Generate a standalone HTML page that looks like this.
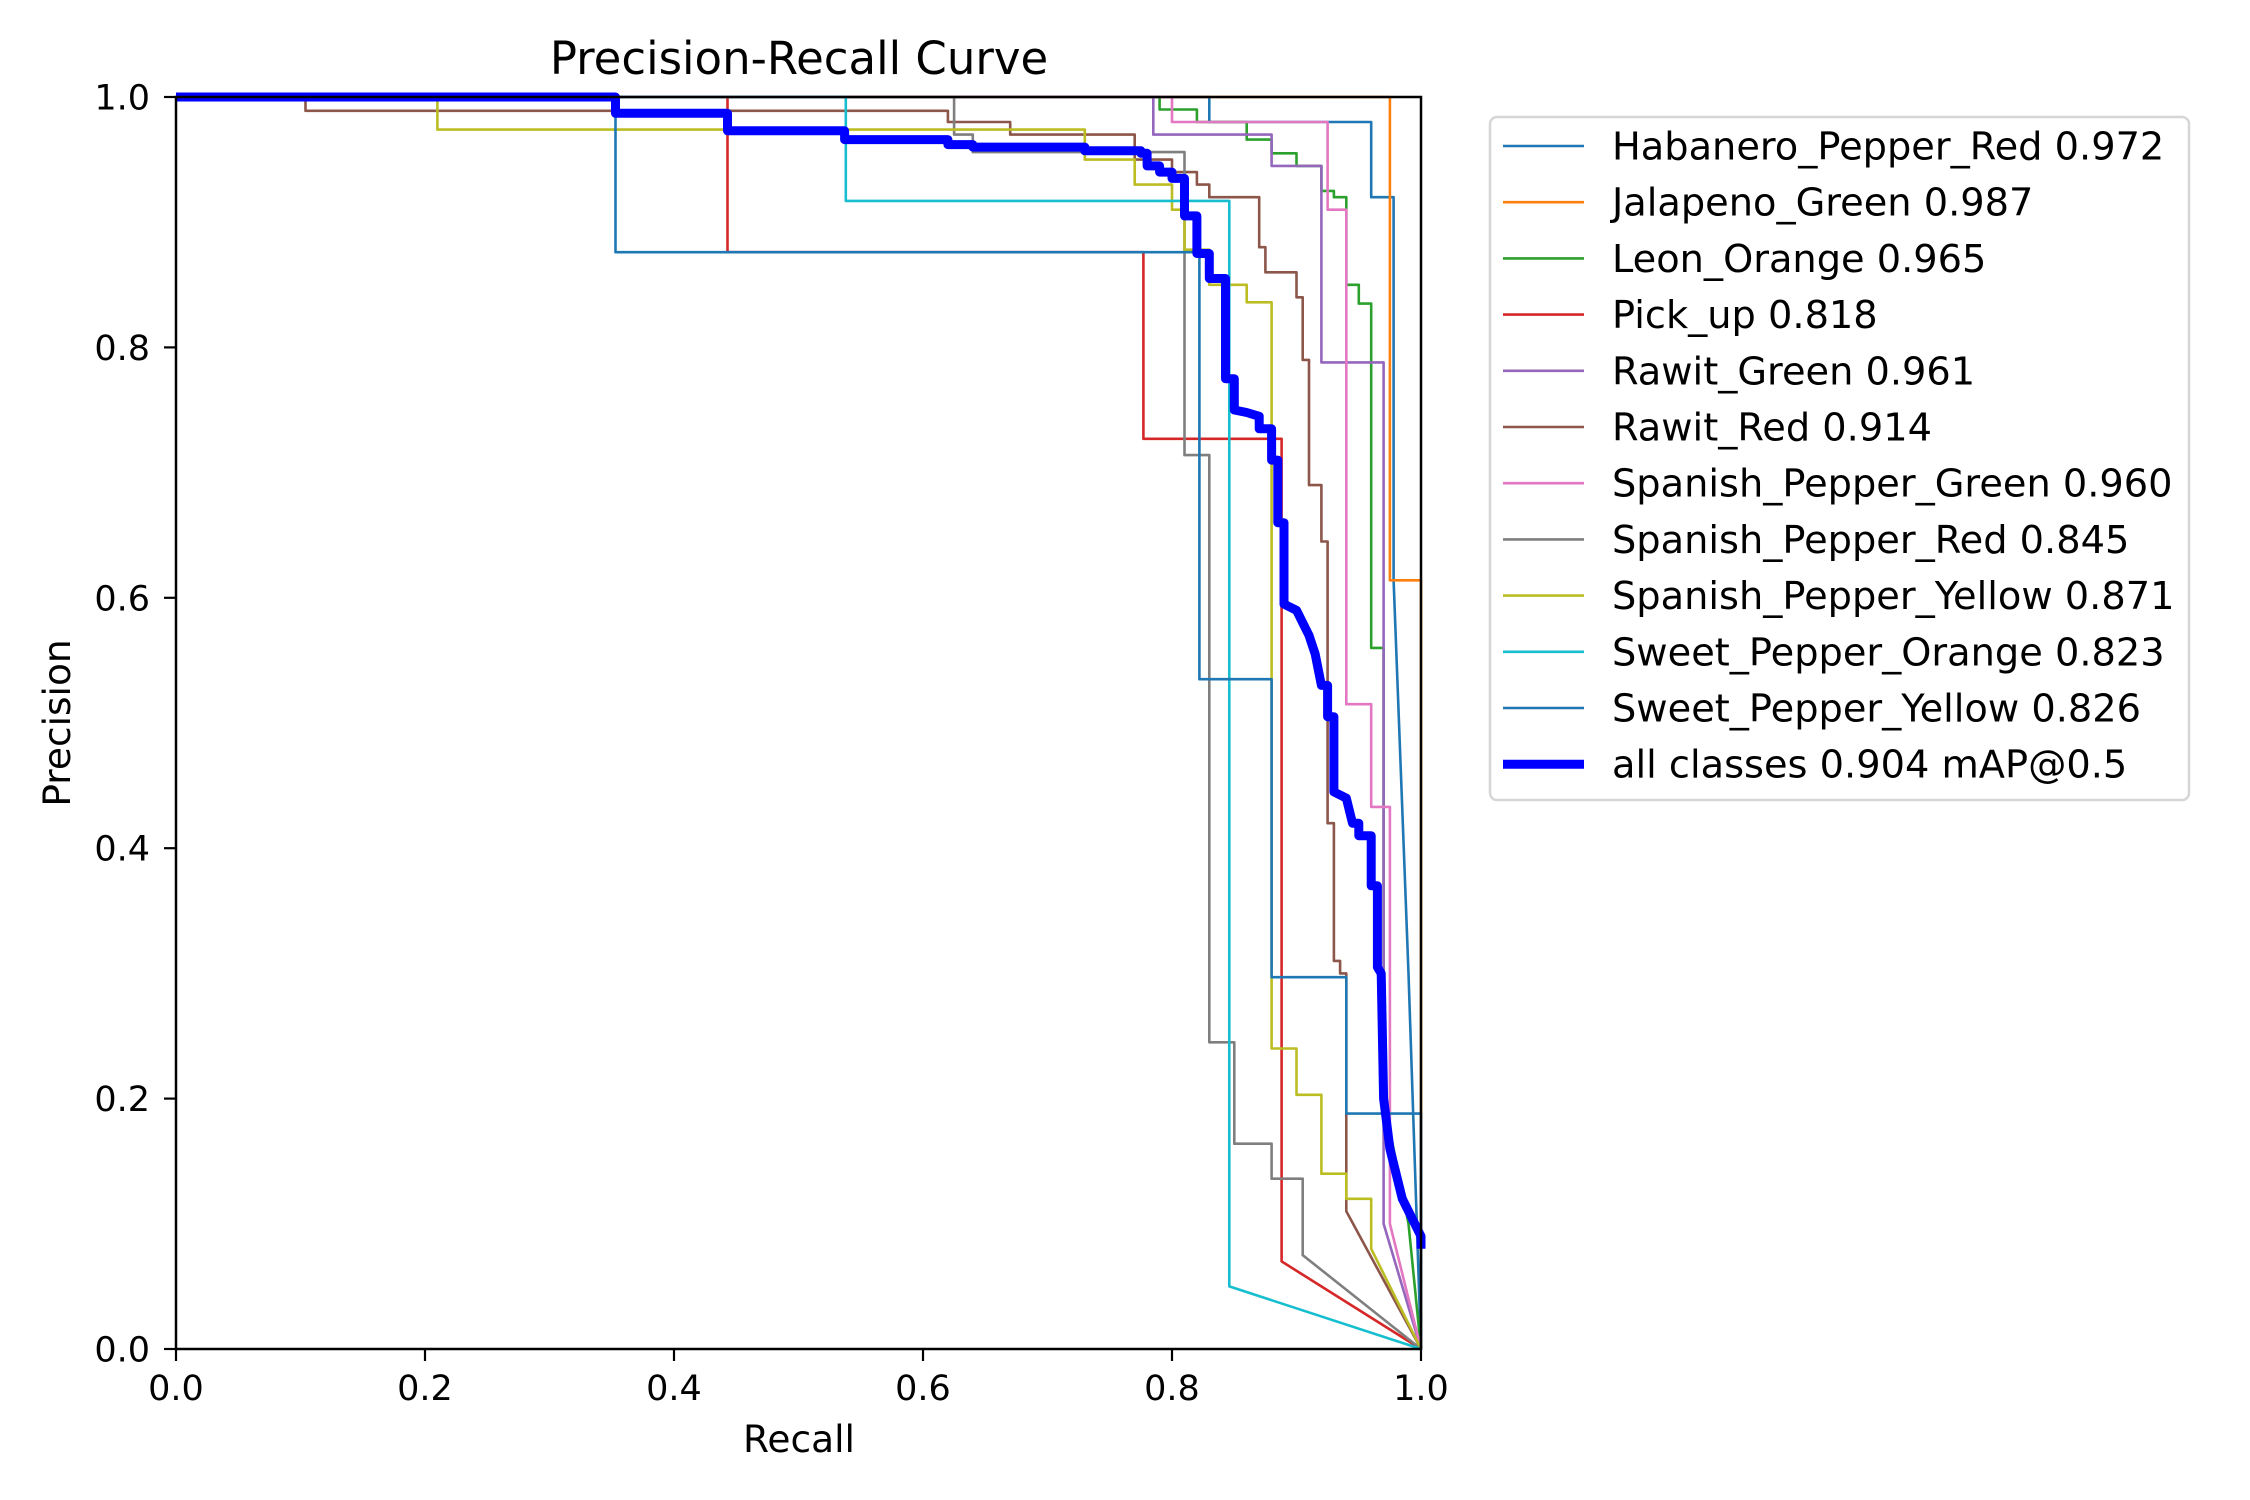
<!DOCTYPE html>
<html><head><meta charset="utf-8">
<style>
html,body{margin:0;padding:0;background:#fff;}
svg{display:block;font-family:"DejaVu Sans","Liberation Sans",sans-serif;}
</style></head>
<body>
<svg id="chart" width="2250" height="1500" viewBox="0 0 2250 1500">
<rect width="2250" height="1500" fill="#fff"/>
<text x="799" y="74" font-size="45" text-anchor="middle">Precision-Recall Curve</text>
<g id="plot"></g>
<g id="axes"></g>
<text x="799" y="1452" font-size="37.5" text-anchor="middle">Recall</text>
<text x="0" y="0" font-size="37.5" text-anchor="middle" transform="translate(70,723) rotate(-90)">Precision</text>
<g id="legend"></g>
</svg>
<script>
const classNames = ["Habanero_Pepper_Red 0.972","Jalapeno_Green 0.987","Leon_Orange 0.965","Pick_up 0.818","Rawit_Green 0.961","Rawit_Red 0.914","Spanish_Pepper_Green 0.960","Spanish_Pepper_Red 0.845","Spanish_Pepper_Yellow 0.871","Sweet_Pepper_Orange 0.823","Sweet_Pepper_Yellow 0.826","all classes 0.904 mAP@0.5"];
const xTicks = [0,0.2,0.4,0.6,0.8,1.0];
const yTicks = [0,0.2,0.4,0.6,0.8,1.0];
const habaneroR = [0,0.83,0.83,0.96,0.96,0.978,0.978,0.99,1];
const habaneroP = [1,1,0.98,0.98,0.92,0.92,0.614,0.3,0];
const jalapenoR = [0,0.975,0.975,1,1];
const jalapenoP = [1,1,0.614,0.614,0];
const leonR = [0,0.79,0.79,0.82,0.82,0.86,0.86,0.88,0.88,0.9,0.9,0.92,0.92,0.93,0.93,0.94,0.94,0.95,0.95,0.96,0.96,0.97,0.97,0.99,1];
const leonP = [1,1,0.99,0.99,0.98,0.98,0.966,0.966,0.955,0.955,0.945,0.945,0.925,0.925,0.92,0.92,0.85,0.85,0.835,0.835,0.56,0.56,0.2,0.1,0];
const pickR = [0,0.443,0.443,0.777,0.777,0.888,0.888,1];
const pickP = [1,1,0.876,0.876,0.727,0.727,0.07,0];
const rawitGR = [0,0.785,0.785,0.88,0.88,0.92,0.92,0.97,0.97,1];
const rawitGP = [1,1,0.97,0.97,0.945,0.945,0.788,0.788,0.1,0];
const rawitRR = [0,0.104,0.104,0.62,0.62,0.67,0.67,0.77,0.77,0.8,0.8,0.82,0.82,0.83,0.83,0.87,0.87,0.875,0.875,0.9,0.9,0.905,0.905,0.91,0.91,0.92,0.92,0.925,0.925,0.93,0.93,0.935,0.935,0.94,0.94,1];
const rawitRP = [1,1,0.989,0.989,0.98,0.98,0.97,0.97,0.95,0.95,0.94,0.94,0.93,0.93,0.92,0.92,0.88,0.88,0.86,0.86,0.84,0.84,0.79,0.79,0.69,0.69,0.645,0.645,0.42,0.42,0.31,0.31,0.3,0.3,0.11,0];
const spGreenR = [0,0.8,0.8,0.925,0.925,0.94,0.94,0.96,0.96,0.975,0.975,1];
const spGreenP = [1,1,0.98,0.98,0.91,0.91,0.515,0.515,0.433,0.433,0.1,0];
const spRedR = [0,0.625,0.625,0.64,0.64,0.81,0.81,0.83,0.83,0.85,0.85,0.88,0.88,0.905,0.905,1];
const spRedP = [1,1,0.97,0.97,0.956,0.956,0.714,0.714,0.245,0.245,0.164,0.164,0.136,0.136,0.075,0];
const spYellowR = [0,0.21,0.21,0.73,0.73,0.77,0.77,0.8,0.8,0.81,0.81,0.83,0.83,0.86,0.86,0.88,0.88,0.9,0.9,0.92,0.92,0.94,0.94,0.96,0.96,1];
const spYellowP = [1,1,0.974,0.974,0.95,0.95,0.93,0.93,0.91,0.91,0.878,0.878,0.85,0.85,0.836,0.836,0.24,0.24,0.203,0.203,0.14,0.14,0.12,0.12,0.08,0];
const swOrangeR = [0,0.538,0.538,0.846,0.846,1];
const swOrangeP = [1,1,0.917,0.917,0.05,0];
const swYellowR = [0,0.353,0.353,0.822,0.822,0.88,0.88,0.94,0.94,1,1];
const swYellowP = [1,1,0.876,0.876,0.535,0.535,0.297,0.297,0.188,0.188,0];
const allR = [0,0.353,0.353,0.443,0.443,0.537,0.537,0.62,0.62,0.64,0.64,0.73,0.73,0.775,0.775,0.78,0.78,0.79,0.79,0.8,0.8,0.81,0.81,0.82,0.82,0.83,0.83,0.843,0.843,0.85,0.85,0.86,0.87,0.87,0.88,0.88,0.885,0.885,0.89,0.89,0.9,0.905,0.91,0.915,0.92,0.925,0.925,0.93,0.93,0.94,0.945,0.95,0.95,0.96,0.96,0.965,0.965,0.968,0.97,0.975,0.985,1,1];
const allP = [1,1,0.987,0.987,0.973,0.973,0.966,0.966,0.962,0.962,0.96,0.96,0.957,0.957,0.955,0.955,0.945,0.945,0.94,0.94,0.935,0.935,0.905,0.905,0.875,0.875,0.855,0.855,0.775,0.775,0.75,0.748,0.745,0.735,0.735,0.71,0.71,0.66,0.66,0.595,0.59,0.58,0.57,0.555,0.53,0.53,0.505,0.505,0.445,0.44,0.42,0.42,0.41,0.41,0.37,0.37,0.305,0.3,0.2,0.16,0.12,0.09,0.08,0];

const seriesR = [habaneroR,jalapenoR,leonR,pickR,rawitGR,rawitRR,spGreenR,spRedR,spYellowR,swOrangeR,swYellowR,allR];
const seriesP = [habaneroP,jalapenoP,leonP,pickP,rawitGP,rawitRP,spGreenP,spRedP,spYellowP,swOrangeP,swYellowP,allP];
const colors = ["#1f77b4","#ff7f0e","#2ca02c","#d62728","#9467bd","#8c564b","#e377c2","#7f7f7f","#bcbd22","#17becf","#1f77b4","#0000ff"];

const NS="http://www.w3.org/2000/svg";
const L=176,R=1421,T=97,B=1349;
const xs=v=>L+v*(R-L);
const ys=v=>B-v*(B-T);
function mk(tag,attrs,parent){const e=document.createElementNS(NS,tag);for(const k in attrs)e.setAttribute(k,attrs[k]);parent.appendChild(e);return e;}
const plot=document.getElementById('plot'), axes=document.getElementById('axes'), legend=document.getElementById('legend');
const clip=mk('clipPath',{id:'clipA'},plot);
mk('rect',{x:L,y:T-6,width:R-L+6,height:B-T+6},clip);
const g=mk('g',{'clip-path':'url(#clipA)'},plot);
seriesR.forEach((rs,i)=>{
  const ps=seriesP[i];
  const pts=rs.map((r,j)=>xs(r).toFixed(1)+','+ys(ps[j]).toFixed(1)).join(' ');
  const pl=mk('polyline',{points:pts,fill:'none',stroke:colors[i],'stroke-width':i===11?9:2.6,'stroke-linejoin':'round'},g);
  
  
});
const frame=mk('rect',{x:L,y:T,width:R-L,height:B-T,fill:'none',stroke:'#000','stroke-width':2.5},axes);


xTicks.forEach(v=>{
  const x=xs(v);
  const t=mk('line',{x1:x,y1:B,x2:x,y2:B+12,stroke:'#000','stroke-width':2.2},axes);
  
  
  const lb=mk('text',{x:x,y:1400,'font-size':35,'text-anchor':'middle'},axes);
  lb.textContent=v.toFixed(1);
  
  
});
yTicks.forEach(v=>{
  const y=ys(v);
  const t=mk('line',{x1:L-12,y1:y,x2:L,y2:y,stroke:'#000','stroke-width':2.2},axes);
  
  
  const lb=mk('text',{x:150,y:y+12.5,'font-size':35,'text-anchor':'end'},axes);
  lb.textContent=v.toFixed(1);
  
  
});
const box=mk('rect',{x:1490,y:117,width:699,height:683,rx:7,fill:'#fff',stroke:'#d6d6d6','stroke-width':2.5},legend);


classNames.forEach((n,i)=>{
  const y=146+i*56.2;
  const ln=mk('line',{x1:1503,y1:y,x2:1584,y2:y,stroke:colors[i],'stroke-width':i===11?9:2.6},legend);
  
  
  const tx=mk('text',{x:1612,y:y+13.5,'font-size':38.3},legend);
  tx.textContent=n;
  
  
});
</script>
</body></html>
